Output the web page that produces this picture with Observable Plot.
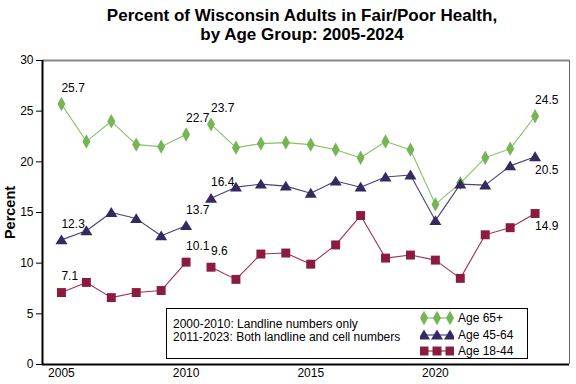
<!DOCTYPE html>
<html>
<head>
<meta charset="utf-8">
<script src="https://cdn.jsdelivr.net/npm/d3@7"></script>
<script src="https://cdn.jsdelivr.net/npm/@observablehq/plot@0.6"></script>
<style>
  body { margin: 0; background: #fff; font-family: "Liberation Sans", Arial, sans-serif; }
  #wrap { position: relative; width: 576px; height: 384px; overflow: hidden; }
  #title { height: 50px; text-align: center; font-weight: bold; font-size: 17px; line-height: 19px; padding-top: 6px; box-sizing: border-box; padding-left: 28px; }
  #legend { position: absolute; left: 166px; top: 308px; width: 362px; height: 51px; border: 1px solid #000; background: #fff; box-sizing: border-box; font-size: 12px; color: #000; }
  #note { position: absolute; left: 6px; top: 9px; line-height: 13px; }
  #keys { position: absolute; left: 253px; top: 1px; line-height: 16.5px; }
  .key { display: flex; align-items: center; height: 16.5px; }
  .key svg { margin-right: 4px; }
</style>
</head>
<body>
<div id="wrap">
  <div id="title">Percent of Wisconsin Adults in Fair/Poor Health,<br>by Age Group: 2005-2024</div>
  <div id="chart"></div>
  <div id="legend">
    <div id="note">2000-2010: Landline numbers only<br>2011-2023: Both landline and cell numbers</div>
    <div id="keys"></div>
  </div>
</div>
<script>
const years = [2005,2006,2007,2008,2009,2010,2011,2012,2013,2014,2015,2016,2017,2018,2019,2020,2021,2022,2023,2024];
const age65 = [25.7,22.0,24.0,21.7,21.5,22.7,23.7,21.4,21.8,21.9,21.7,21.2,20.4,22.0,21.2,15.8,17.9,20.4,21.3,24.5];
const age45 = [12.3,13.2,15.0,14.4,12.7,13.7,16.4,17.5,17.8,17.6,16.9,18.1,17.5,18.5,18.7,14.2,17.8,17.7,19.6,20.5];
const age18 = [7.1,8.1,6.6,7.1,7.3,10.1,9.6,8.4,10.9,11.0,9.9,11.8,14.7,10.5,10.8,10.3,8.5,12.8,13.5,14.9];
const seriesNames = ["Age 65+", "Age 45-64", "Age 18-44"];
const yTicks = [0,5,10,15,20,25,30];
const xTicks = [2005,2010,2015,2020];
const labelYears = [2005,2010,2011,2024];
const breakAfter = 2010;

const markColors = {"Age 65+": "#76b454", "Age 45-64": "#35295f", "Age 18-44": "#8c1c3e"};
const lineColors = {"Age 65+": "#86c264", "Age 45-64": "#4a4178", "Age 18-44": "#9c3252"};

// custom symbols
const tallDiamond = {draw(ctx, size) { const r = Math.sqrt(size / Math.PI); ctx.moveTo(0, -1.8*r); ctx.lineTo(r, 0); ctx.lineTo(0, 1.8*r); ctx.lineTo(-r, 0); ctx.closePath(); }};
const wideTriangle = {draw(ctx, size) { const r = Math.sqrt(size / Math.PI); ctx.moveTo(0, -1.35*r); ctx.lineTo(1.5*r, 1.1*r); ctx.lineTo(-1.5*r, 1.1*r); ctx.closePath(); }};
const boxSquare = {draw(ctx, size) { const r = Math.sqrt(size / Math.PI); const h = 1.12*r; ctx.rect(-h, -h, 2*h, 2*h); }};
const symbols = {"Age 65+": tallDiamond, "Age 45-64": wideTriangle, "Age 18-44": boxSquare};

const valuesBySeries = {"Age 65+": age65, "Age 45-64": age45, "Age 18-44": age18};
const data = [];
for (const s of seriesNames) {
  valuesBySeries[s].forEach((v, i) => data.push({series: s, year: years[i], value: v, seg: s + (years[i] <= breakAfter ? "-a" : "-b")}));
}
const labels = data.filter(d => labelYears.includes(d.year));
const below = d => d.year === 2024 && d.series !== "Age 65+";

const xmin = 2004.24, xmax = 2025.38;

const chart = Plot.plot({
  width: 576,
  height: 334,
  marginTop: 10,
  marginBottom: 20,
  marginLeft: 42,
  marginRight: 7,
  style: {fontFamily: "Liberation Sans, Arial, sans-serif", fontSize: "12px", color: "#000", background: "#fff"},
  x: {domain: [xmin, xmax]},
  y: {domain: [0, 30]},
  marks: [
    Plot.ruleY([30], {stroke: "#888", strokeWidth: 2}),
    Plot.ruleX([xmax], {stroke: "#666", strokeWidth: 1}),
    Plot.ruleY([0], {stroke: "#000", strokeWidth: 2}),
    Plot.ruleX([xmin], {stroke: "#000", strokeWidth: 2}),
    Plot.axisY({ticks: yTicks, tickSize: 6, tickPadding: 3, fontSize: 12, label: "Percent", labelAnchor: "center", labelArrow: "none", labelOffset: 38, tickFormat: d => d}),
    Plot.axisX({ticks: xTicks, tickSize: 0, tickPadding: 4, fontSize: 12, tickFormat: d => String(d), label: null}),
    Plot.line(data, {x: "year", y: "value", z: "seg", stroke: d => lineColors[d.series], strokeWidth: 1.1}),
    Plot.dot(data, {x: "year", y: "value", symbol: d => symbols[d.series], r: 4, fill: d => markColors[d.series], stroke: "none"}),
    Plot.text(labels.filter(d => !below(d)), {x: "year", y: "value", text: d => d.value.toFixed(1), textAnchor: "start", dx: 0, dy: -16, fontSize: 12, fill: "#000"}),
    Plot.text(labels.filter(below), {x: "year", y: "value", text: d => d.value.toFixed(1), textAnchor: "start", dx: 0, dy: 13, fontSize: 12, fill: "#000"})
  ]
});
// style y label bold
chart.querySelectorAll("text").forEach(t => { if (t.textContent === "Percent") { t.style.fontWeight = "bold"; t.style.fontSize = "14.5px"; } });
document.getElementById("chart").appendChild(chart);

// legend keys
const keys = document.getElementById("keys");
for (const s of seriesNames) {
  const row = document.createElement("div");
  row.className = "key";
  const svg = d3.create("svg").attr("width", 34).attr("height", 16);
  const xs = [4, 17, 30];
  svg.append("line").attr("x1", 4).attr("x2", 30).attr("y1", 8).attr("y2", 8).attr("stroke", lineColors[s]).attr("stroke-width", 1.2);
  for (const x of xs) {
    const p = d3.path();
    symbols[s].draw(p, Math.PI * 16);
    svg.append("path").attr("d", p.toString()).attr("transform", `translate(${x},8)`).attr("fill", markColors[s]);
  }
  row.appendChild(svg.node());
  const span = document.createElement("span");
  span.textContent = s;
  row.appendChild(span);
  keys.appendChild(row);
}
</script>
</body>
</html>
